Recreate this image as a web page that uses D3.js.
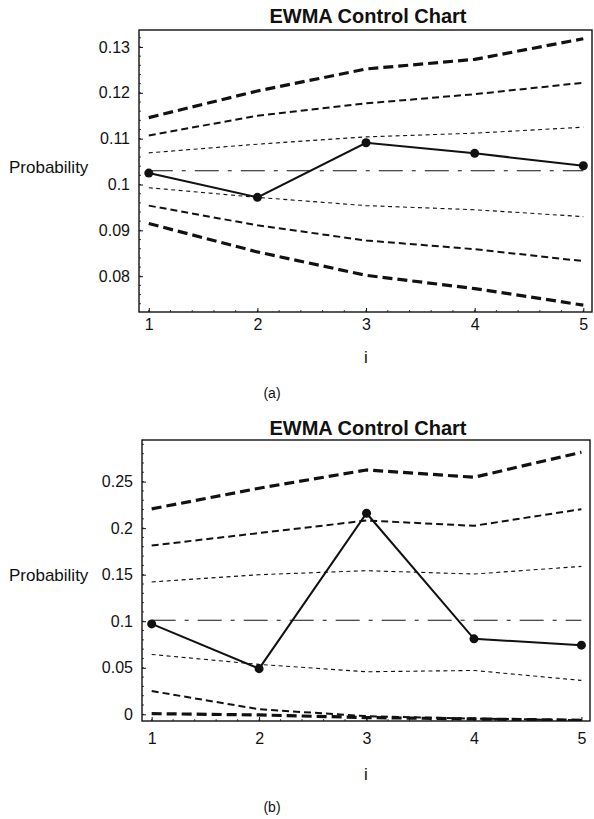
<!DOCTYPE html>
<html>
<head>
<meta charset="utf-8">
<script src="https://cdn.jsdelivr.net/npm/d3@7"></script>
<style>
  body { margin: 0; background: #fff; }
  text { font-family: "Liberation Sans", Arial, sans-serif; fill: #111; }
</style>
</head>
<body>
<div id="chart"></div>
<script>
// sample index
const steps = [1, 2, 3, 4, 5]

// chart (a)
const aObserved = [0.1025, 0.0972, 0.1091, 0.1068, 0.1041]
const aCenter   = [0.1030, 0.1030, 0.1030, 0.1030, 0.1030]
const aUpper1   = [0.1069, 0.1088, 0.1104, 0.1112, 0.1125]
const aLower1   = [0.0993, 0.0972, 0.0954, 0.0945, 0.0930]
const aUpper2   = [0.1107, 0.1150, 0.1177, 0.1197, 0.1222]
const aLower2   = [0.0954, 0.0911, 0.0878, 0.0859, 0.0833]
const aUpper3   = [0.1146, 0.1204, 0.1252, 0.1273, 0.1318]
const aLower3   = [0.0915, 0.0853, 0.0802, 0.0773, 0.0737]
const aTicks    = [0.08, 0.09, 0.1, 0.11, 0.12, 0.13]
const aTickText = ["0.08", "0.09", "0.1", "0.11", "0.12", "0.13"]

// chart (b)
const bObserved = [0.0971, 0.0490, 0.2160, 0.0811, 0.0743]
const bCenter   = [0.1010, 0.1010, 0.1010, 0.1010, 0.1010]
const bUpper1   = [0.1422, 0.1500, 0.1543, 0.1507, 0.1589]
const bLower1   = [0.0643, 0.0536, 0.0457, 0.0471, 0.0364]
const bUpper2   = [0.1814, 0.1947, 0.2082, 0.2025, 0.2204]
const bLower2   = [0.0250, 0.0054, -0.0020, -0.0046, -0.0064]
const bUpper3   = [0.2207, 0.2429, 0.2625, 0.2547, 0.2815]
const bLower3   = [0.0007, -0.0007, -0.0035, -0.0050, -0.0064]
const bTicks    = [0, 0.05, 0.1, 0.15, 0.2, 0.25]
const bTickText = ["0", "0.05", "0.1", "0.15", "0.2", "0.25"]

const svg = d3.select("#chart").append("svg")
  .attr("width", 594)
  .attr("height", 819)

// line styles for the limit bands
const styles = {
  inner:  { w: 1.1, dash: "4,3.5" },
  middle: { w: 2,   dash: "7,4" },
  outer:  { w: 3.2, dash: "10,5" },
  center: { w: 1.1, dash: "24,9,4,9" }
}

function drawChart(opt) {
  const g = svg.append("g")
  const x = d3.scaleLinear().domain([0.91, 5.08]).range([opt.left, opt.right])
  const y = d3.scaleLinear().domain(opt.yDomain).range([opt.bottom, opt.top])

  // title
  g.append("text")
    .attr("x", 368).attr("y", opt.titleY)
    .attr("text-anchor", "middle")
    .style("font-size", "20px").style("font-weight", "bold")
    .text("EWMA Control Chart")

  const line = d3.line()
    .x((d, i) => x(steps[i]))
    .y(d => y(d))

  const clip = "clip-" + opt.id
  g.append("clipPath").attr("id", clip)
    .append("rect")
    .attr("x", opt.left).attr("y", opt.top)
    .attr("width", opt.right - opt.left).attr("height", opt.bottom - opt.top)

  const plot = g.append("g").attr("clip-path", `url(#${clip})`)

  opt.bands.forEach(b => {
    const s = styles[b.style]
    plot.append("path")
      .attr("d", line(b.values))
      .attr("fill", "none")
      .attr("stroke", "#111")
      .attr("stroke-width", s.w)
      .attr("stroke-linejoin", "round")
      .attr("stroke-dasharray", s.dash)
  })

  plot.append("path")
    .attr("d", line(opt.observed))
    .attr("fill", "none")
    .attr("stroke", "#111")
    .attr("stroke-width", 2)

  g.selectAll(null).data(opt.observed).enter().append("circle")
    .attr("cx", (d, i) => x(steps[i]))
    .attr("cy", d => y(d))
    .attr("r", 4.5)
    .attr("fill", "#111")

  // frame
  g.append("rect")
    .attr("x", opt.left).attr("y", opt.top)
    .attr("width", opt.right - opt.left).attr("height", opt.bottom - opt.top)
    .attr("fill", "none").attr("stroke", "#111").attr("stroke-width", 1.4)

  // axes (ticks inward)
  g.append("g")
    .attr("transform", `translate(0,${opt.bottom})`)
    .call(d3.axisBottom(x).tickValues(steps).tickFormat(d3.format("d")).tickSizeInner(-4).tickSizeOuter(0).tickPadding(opt.xPad))
    .call(a => a.select(".domain").remove())
    .call(a => a.selectAll("line").attr("stroke", "#111"))
    .call(a => a.selectAll("text").attr("fill", "#111").style("font-size", "16px").attr("font-family", null))
  g.append("g")
    .attr("transform", `translate(${opt.left},0)`)
    .call(d3.axisLeft(y).tickValues(opt.ticks).tickFormat((d, i) => opt.tickText[i]).tickSizeInner(-4).tickSizeOuter(0).tickPadding(9))
    .call(a => a.select(".domain").remove())
    .call(a => a.selectAll("line").attr("stroke", "#111"))
    .call(a => a.selectAll("text").attr("fill", "#111").style("font-size", "16px").attr("font-family", null))

  // minor ticks
  const step = opt.ticks[1] - opt.ticks[0]
  const minor = d3.range(opt.yDomain[0], opt.yDomain[1], step / 5)
    .map(v => Math.round(v / (step / 5)) * (step / 5))
    .filter(v => v >= opt.yDomain[0] && v <= opt.yDomain[1])
  g.selectAll(null).data(minor).enter().append("line")
    .attr("x1", opt.left).attr("x2", opt.left + 2)
    .attr("y1", d => y(d)).attr("y2", d => y(d))
    .attr("stroke", "#111").attr("stroke-width", 0.8)
  g.selectAll(null).data(d3.range(1, 5.01, 0.2)).enter().append("line")
    .attr("x1", d => x(d)).attr("x2", d => x(d))
    .attr("y1", opt.bottom).attr("y2", opt.bottom - 2)
    .attr("stroke", "#111").attr("stroke-width", 0.8)

  // labels
  g.append("text")
    .attr("x", 9).attr("y", opt.labelY)
    .style("font-size", "17px")
    .text("Probability")
  g.append("text")
    .attr("x", 366).attr("y", opt.iY)
    .attr("text-anchor", "middle")
    .style("font-size", "17px")
    .text("i")
  g.append("text")
    .attr("x", 272).attr("y", opt.nameY)
    .attr("text-anchor", "middle")
    .style("font-size", "14px")
    .text(opt.name)
}

drawChart({
  id: "a", name: "(a)",
  left: 139, right: 592, top: 30, bottom: 312,
  titleY: 23, xPad: 7, iY: 363, nameY: 398,
  yDomain: [0.0722, 0.1337],
  ticks: aTicks, tickText: aTickText,
  labelY: 173,
  observed: aObserved,
  bands: [
    { style: "inner", values: aUpper1 }, { style: "inner", values: aLower1 },
    { style: "middle", values: aUpper2 }, { style: "middle", values: aLower2 },
    { style: "outer", values: aUpper3 }, { style: "outer", values: aLower3 },
    { style: "center", values: aCenter }
  ]
})

drawChart({
  id: "b", name: "(b)",
  left: 142, right: 590, top: 440, bottom: 721,
  titleY: 435, xPad: 12, iY: 780, nameY: 812,
  yDomain: [-0.0072, 0.2947],
  ticks: bTicks, tickText: bTickText,
  labelY: 581,
  observed: bObserved,
  bands: [
    { style: "inner", values: bUpper1 }, { style: "inner", values: bLower1 },
    { style: "middle", values: bUpper2 }, { style: "middle", values: bLower2 },
    { style: "outer", values: bUpper3 }, { style: "outer", values: bLower3 },
    { style: "center", values: bCenter }
  ]
})
</script>
</body>
</html>
